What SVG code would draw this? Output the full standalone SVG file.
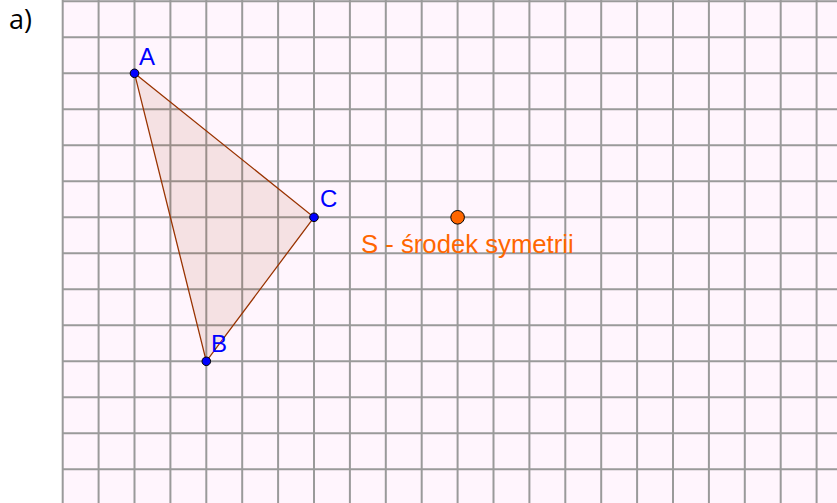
<svg xmlns="http://www.w3.org/2000/svg" width="837" height="503" viewBox="0 0 837 503">
<style>
.grid line{stroke:#9a9a9a;stroke-width:2}
.pt{fill:#0000ff;stroke:#000;stroke-width:1}
.lbl{font-family:"Liberation Sans",Arial,sans-serif;font-size:24px;fill:#0000ff}
</style>
<rect width="837" height="503" fill="#fff"/>
<rect x="62" y="0" width="775" height="503" fill="#fff5fd"/>
<g class="grid" id="grid">
<line x1="62.7" y1="0" x2="62.7" y2="503"/><line x1="98.6" y1="0" x2="98.6" y2="503"/><line x1="134.5" y1="0" x2="134.5" y2="503"/><line x1="170.4" y1="0" x2="170.4" y2="503"/><line x1="206.3" y1="0" x2="206.3" y2="503"/><line x1="242.2" y1="0" x2="242.2" y2="503"/><line x1="278.1" y1="0" x2="278.1" y2="503"/><line x1="314" y1="0" x2="314" y2="503"/><line x1="349.9" y1="0" x2="349.9" y2="503"/><line x1="385.8" y1="0" x2="385.8" y2="503"/><line x1="421.7" y1="0" x2="421.7" y2="503"/><line x1="457.6" y1="0" x2="457.6" y2="503"/><line x1="493.5" y1="0" x2="493.5" y2="503"/><line x1="529.4" y1="0" x2="529.4" y2="503"/><line x1="565.3" y1="0" x2="565.3" y2="503"/><line x1="601.2" y1="0" x2="601.2" y2="503"/><line x1="637.1" y1="0" x2="637.1" y2="503"/><line x1="673" y1="0" x2="673" y2="503"/><line x1="708.9" y1="0" x2="708.9" y2="503"/><line x1="744.8" y1="0" x2="744.8" y2="503"/><line x1="780.7" y1="0" x2="780.7" y2="503"/><line x1="816.6" y1="0" x2="816.6" y2="503"/>
<line x1="62" y1="1.3" x2="837" y2="1.3"/><line x1="62" y1="37.3" x2="837" y2="37.3"/><line x1="62" y1="73.3" x2="837" y2="73.3"/><line x1="62" y1="109.3" x2="837" y2="109.3"/><line x1="62" y1="145.3" x2="837" y2="145.3"/><line x1="62" y1="181.3" x2="837" y2="181.3"/><line x1="62" y1="217.3" x2="837" y2="217.3"/><line x1="62" y1="253.3" x2="837" y2="253.3"/><line x1="62" y1="289.3" x2="837" y2="289.3"/><line x1="62" y1="325.3" x2="837" y2="325.3"/><line x1="62" y1="361.3" x2="837" y2="361.3"/><line x1="62" y1="397.3" x2="837" y2="397.3"/><line x1="62" y1="433.3" x2="837" y2="433.3"/><line x1="62" y1="469.3" x2="837" y2="469.3"/>
</g>
<g id="triangle">
<polygon points="134.5,73.3 314,217.3 206.3,361.3" fill="#993300" fill-opacity="0.1" stroke="#993300" stroke-width="1.3"/>
</g>
<g id="A"><circle class="pt" cx="134.5" cy="73.3" r="4.3"/><text class="lbl" x="139" y="65">A</text></g>
<g id="B"><circle class="pt" cx="206.3" cy="361.3" r="4.3"/><text class="lbl" x="211" y="352">B</text></g>
<g id="C"><circle class="pt" cx="314" cy="217.3" r="4.3"/><text class="lbl" x="320" y="207">C</text></g>
<g id="S"><circle cx="457.6" cy="217.3" r="6.8" fill="#ff6600" stroke="#000" stroke-width="1"/><text x="361" y="253" font-family="'Liberation Sans',Arial,sans-serif" font-size="25.7" fill="#ff6600">S - środek symetrii</text></g>
<text x="9" y="29" font-family="'Open Sans','Liberation Sans',sans-serif" font-size="27" fill="#000">a)</text>
</svg>
